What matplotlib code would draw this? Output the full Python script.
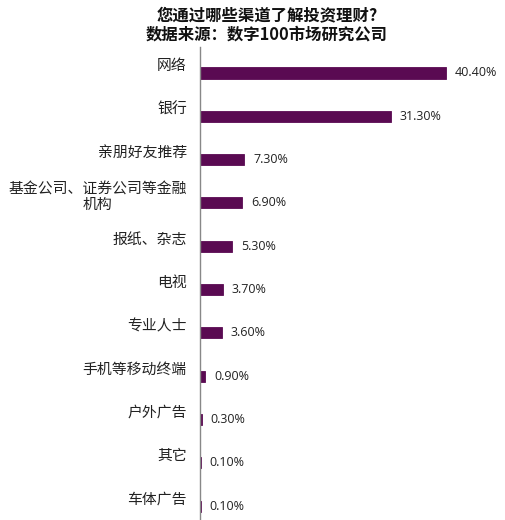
import matplotlib
matplotlib.use("Agg")
import matplotlib.pyplot as plt
import matplotlib.transforms as mtransforms

categories = ["网络", "银行", "亲朋好友推荐", "基金公司、证券公司等金融\n机构", "报纸、杂志",
              "电视", "专业人士", "手机等移动终端", "户外广告", "其它", "车体广告"]
values = [40.4, 31.3, 7.3, 6.9, 5.3, 3.7, 3.6, 0.9, 0.3, 0.1, 0.1]
value_labels = ["40.40%", "31.30%", "7.30%", "6.90%", "5.30%", "3.70%", "3.60%",
                "0.90%", "0.30%", "0.10%", "0.10%"]
title_lines = ["您通过哪些渠道了解投资理财?", "数据来源：数字100市场研究公司"]

plt.rcParams['font.family'] = ['Noto Sans CJK SC', 'DejaVu Sans']

fig = plt.figure(figsize=(5.06, 5.20), dpi=100)
W, H = 506, 520
ax = fig.add_axes([200 / W, 0, 274 / W, 1 - 47 / H])

pos = list(range(len(categories)))
ax.barh(pos, values, height=0.255, color='#5a0a52', edgecolor='#5a0a52', linewidth=0.6)
ax.set_xlim(0, 45)
ax.set_ylim(10.32, -0.6)

for p, v, lab in zip(pos, values, value_labels):
    ax.annotate(lab, (v, p), xytext=(9, 0), textcoords='offset pixels',
                va='center', ha='left', fontsize=9, family=['Open Sans', 'DejaVu Sans'],
                color='#222222')

ax.set_yticks(pos)
ax.set_yticklabels(categories, fontsize=10.7, color='#222222', multialignment='center')
ax.tick_params(axis='y', length=0, pad=9.5)
offset = mtransforms.ScaledTranslation(0, 8 / 100, fig.dpi_scale_trans)
for lbl in ax.get_yticklabels():
    lbl.set_transform(lbl.get_transform() + offset)
    lbl.set_linespacing(1.1)
ax.set_xticks([])
for s in ['top', 'right', 'bottom']:
    ax.spines[s].set_visible(False)
ax.spines['left'].set_color('#888888')
ax.spines['left'].set_linewidth(1.0)

fig.text(267 / W, 1 - 15 / H, title_lines[0], ha='center', va='center',
         fontsize=11.8, fontweight='bold', color='#111111')
fig.text(267 / W, 1 - 35 / H, title_lines[1], ha='center', va='center',
         fontsize=11.8, fontweight='bold', color='#111111')

fig.savefig("out.png", dpi=100)
